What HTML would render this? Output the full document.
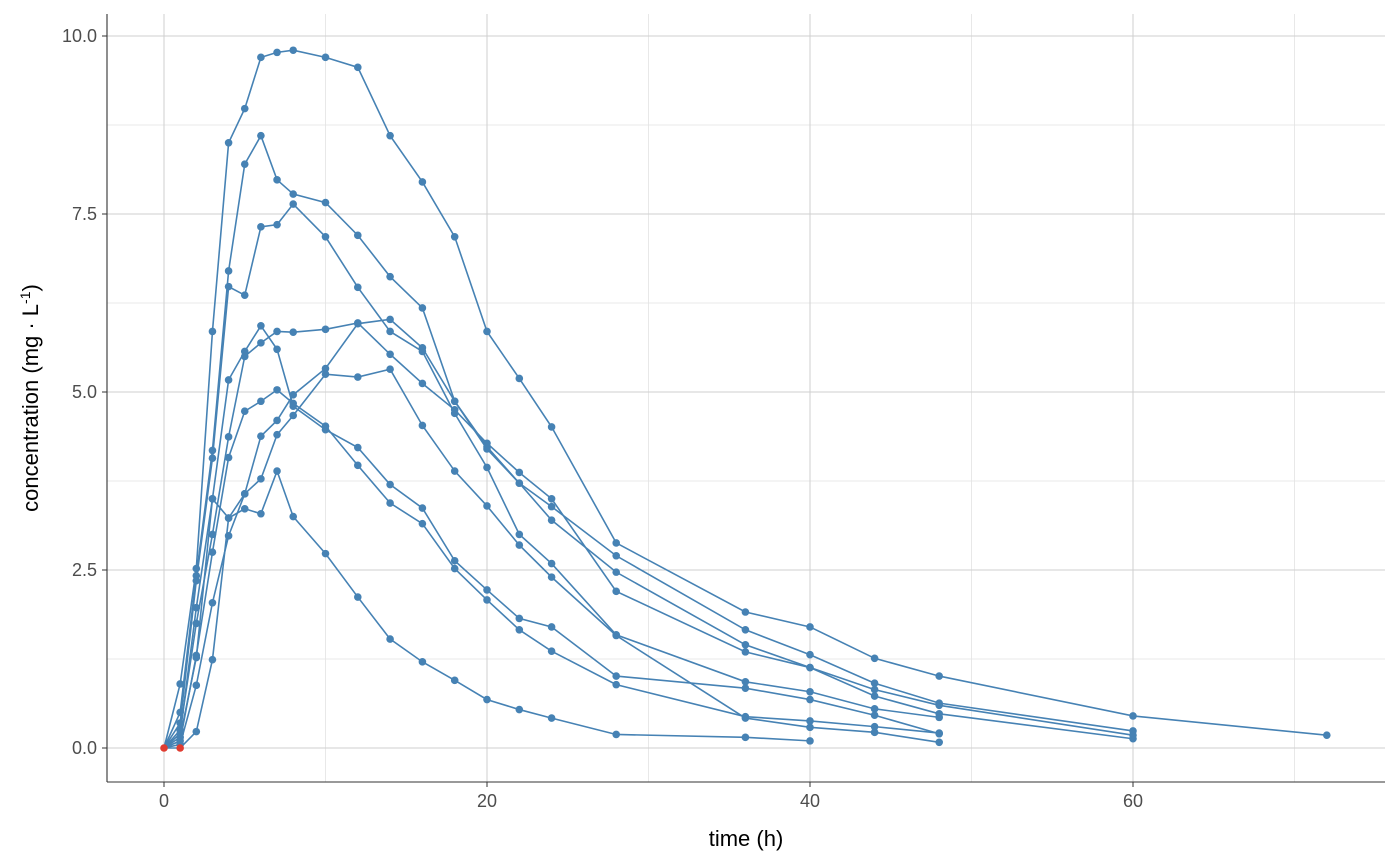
<!DOCTYPE html>
<html><head><meta charset="utf-8"><style>
html,body{margin:0;padding:0;background:#fff;}
svg{display:block;font-family:"Liberation Sans",Arial,sans-serif;}
</style></head><body>
<svg id="s" width="1400" height="866" viewBox="0 0 1400 866" xmlns="http://www.w3.org/2000/svg">
<rect width="1400" height="866" fill="#fff"/>
<g id="grid"></g>
<g id="data"></g>
<line x1="107" y1="14" x2="107" y2="782" stroke="#333" stroke-width="1.1"/>
<line x1="107" y1="782" x2="1385" y2="782" stroke="#333" stroke-width="1.1"/>
<g id="ticks" fill="#4d4d4d" font-size="18"></g>
<text x="746" y="846" text-anchor="middle" font-size="22" fill="#000">time (h)</text>
<text transform="translate(38,398) rotate(-90)" text-anchor="middle" font-size="22" fill="#000">concentration (mg · L<tspan dy="-8" font-size="14">-1</tspan><tspan dy="8">)</tspan></text>
</svg>
<script>
const X=t=>164+t*16.15, Y=v=>748-v*71.2;
const ns="http://www.w3.org/2000/svg";
function el(p,n,a,txt){const e=document.createElementNS(ns,n);for(const k in a)e.setAttribute(k,a[k]);if(txt!==undefined)e.textContent=txt;document.getElementById(p).appendChild(e);return e;}
for(let t=10;t<=70;t+=20)el("grid","line",{x1:X(t),x2:X(t),y1:14,y2:782,stroke:"#e3e3e3","stroke-width":0.8});
for(let v=1.25;v<=10;v+=2.5)el("grid","line",{x1:107,x2:1385,y1:Y(v),y2:Y(v),stroke:"#e3e3e3","stroke-width":0.8});
for(let t=0;t<=60;t+=20){el("grid","line",{x1:X(t),x2:X(t),y1:14,y2:782,stroke:"#cfcfcf","stroke-width":1});
 el("ticks","line",{x1:X(t),x2:X(t),y1:782,y2:787,stroke:"#333"});el("ticks","text",{x:X(t),y:807,"text-anchor":"middle"},String(t));}
for(let i=0;i<=4;i++){const v=i*2.5;el("grid","line",{x1:107,x2:1385,y1:Y(v),y2:Y(v),stroke:"#cfcfcf","stroke-width":1});
 el("ticks","line",{x1:102,x2:107,y1:Y(v),y2:Y(v),stroke:"#333"});el("ticks","text",{x:97,y:Y(v)+6,"text-anchor":"end"},v.toFixed(1));}
const S=[
[[0,0],[1,0.9],[2,2.52],[3,5.85],[4,8.5],[5,8.98],[6,9.7],[7,9.77],[8,9.8],[10,9.7],[12,9.56],[14,8.6],[16,7.95],[18,7.18],[20,5.85],[22,5.19],[24,4.51],[28,2.88],[36,1.91],[40,1.7],[44,1.26],[48,1.01],[60,0.45],[72,0.18]],
[[0,0],[1,0.5],[2,2.42],[3,4.18],[4,6.7],[5,8.2],[6,8.6],[7,7.98],[8,7.78],[10,7.66],[12,7.2],[14,6.62],[16,6.18],[18,4.87],[20,4.2],[22,3.72],[24,3.39],[28,2.7],[36,1.66],[40,1.31],[44,0.91],[48,0.63],[60,0.24]],
[[0,0],[1,0.35],[2,2.35],[3,4.07],[4,6.48],[5,6.36],[6,7.32],[7,7.35],[8,7.64],[10,7.18],[12,6.47],[14,5.85],[16,5.57],[18,4.7],[20,3.94],[22,3.0],[24,2.59],[28,1.59],[36,0.93],[40,0.79],[44,0.55],[48,0.43]],
[[0,0],[1,0.2],[2,1.97],[3,3.5],[4,5.17],[5,5.57],[6,5.93],[7,5.6],[8,4.8],[10,4.47],[12,4.22],[14,3.7],[16,3.37],[18,2.63],[20,2.22],[22,1.82],[24,1.7],[28,1.01],[36,0.84],[40,0.68],[44,0.46],[48,0.2]],
[[0,0],[1,0.25],[2,1.75],[3,3.0],[4,4.37],[5,5.5],[6,5.69],[7,5.85],[8,5.84],[10,5.88],[12,5.97],[14,5.53],[16,5.12],[18,4.75],[20,4.28],[22,3.87],[24,3.5],[28,2.2],[36,1.35],[40,1.13],[44,0.73],[48,0.48],[60,0.13]],
[[0,0],[1,0.1],[2,1.3],[3,2.75],[4,4.08],[5,4.73],[6,4.87],[7,5.03],[8,4.84],[10,4.52],[12,3.97],[14,3.44],[16,3.15],[18,2.52],[20,2.08],[22,1.66],[24,1.36],[28,0.89],[36,0.44],[40,0.38],[44,0.3],[48,0.21]],
[[0,0],[1,0.15],[2,1.27],[3,3.5],[4,3.23],[5,3.57],[6,4.38],[7,4.6],[8,4.96],[10,5.33],[12,5.96],[14,6.02],[16,5.62],[18,4.87],[20,4.23],[22,3.72],[24,3.2],[28,2.47],[36,1.45],[40,1.13],[44,0.82],[48,0.6],[60,0.18]],
[[0,0],[1,0.05],[2,0.88],[3,2.04],[4,2.98],[5,3.57],[6,3.78],[7,4.4],[8,4.67],[10,5.25],[12,5.21],[14,5.32],[16,4.53],[18,3.89],[20,3.4],[22,2.85],[24,2.4],[28,1.58],[36,0.42],[40,0.29],[44,0.22],[48,0.08]],
[[0,0],[1,0],[2,0.23],[3,1.24],[4,3.23],[5,3.36],[6,3.29],[7,3.89],[8,3.25],[10,2.73],[12,2.12],[14,1.53],[16,1.21],[18,0.95],[20,0.68],[22,0.54],[24,0.42],[28,0.19],[36,0.15],[40,0.1]]
];
for(const s of S)el("data","polyline",{points:s.map(p=>X(p[0])+","+Y(p[1])).join(" "),fill:"none",stroke:"#4682b4","stroke-width":1.6});
for(const s of S)for(const p of s)if(!(p[1]===0))el("data","circle",{cx:X(p[0]),cy:Y(p[1]),r:3.8,fill:"#4682b4"});
el("data","circle",{cx:X(0),cy:Y(0),r:3.8,fill:"#e03c31"});
el("data","circle",{cx:X(1),cy:Y(0),r:3.8,fill:"#e03c31"});
</script>
</body></html>
